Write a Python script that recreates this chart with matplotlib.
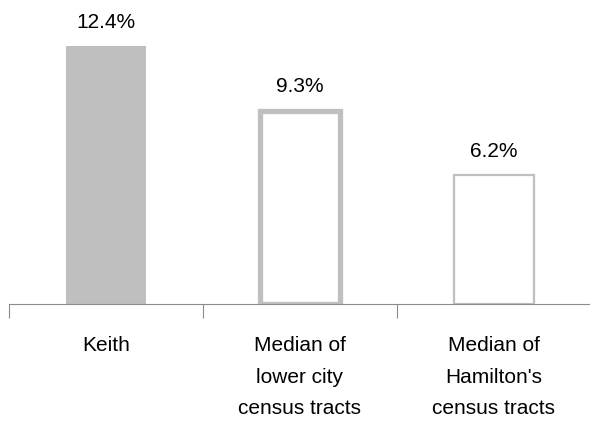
import matplotlib.pyplot as plt

categories = ["Keith", "Median of\nlower city\ncensus tracts", "Median of\nHamilton's\ncensus tracts"]
values = [12.4, 9.3, 6.2]
labels = ["12.4%", "9.3%", "6.2%"]

plt.rcParams['font.family'] = ['Liberation Sans', 'DejaVu Sans']

fig = plt.figure(figsize=(5.9, 4.21), dpi=100)
ax = fig.add_axes([9/590, 117/421, 582/590, 291/421])

grey = "#bfbfbf"
x = range(len(values))
ax.bar(0, values[0], width=0.41, color=grey, edgecolor=grey, linewidth=0)
ax.bar(1, values[1], width=0.41, color="white", edgecolor=grey, linewidth=3.8)
ax.bar(2, values[2], width=0.41, color="white", edgecolor=grey, linewidth=1.6)

for i, v in enumerate(values):
    ax.text(i, v + 0.7, labels[i], ha="center", va="bottom", fontsize=15)

ax.set_xlim(-0.5, 2.5)
ax.set_ylim(0, 14)
ax.set_yticks([])
for s in ["top", "right", "left"]:
    ax.spines[s].set_visible(False)
ax.spines["bottom"].set_color("#8c8c8c")
ax.set_xticks([-0.5, 0.5, 1.5, 2.5])
ax.set_xticklabels([])
ax.tick_params(axis="x", length=10, color="#8c8c8c", direction="out")
ax.set_xticks(list(x), minor=True)
ax.set_xticklabels(categories, minor=True, fontsize=15, linespacing=1.85)
ax.tick_params(axis="x", which="minor", length=0, pad=23)

fig.savefig("out.png", dpi=100)
